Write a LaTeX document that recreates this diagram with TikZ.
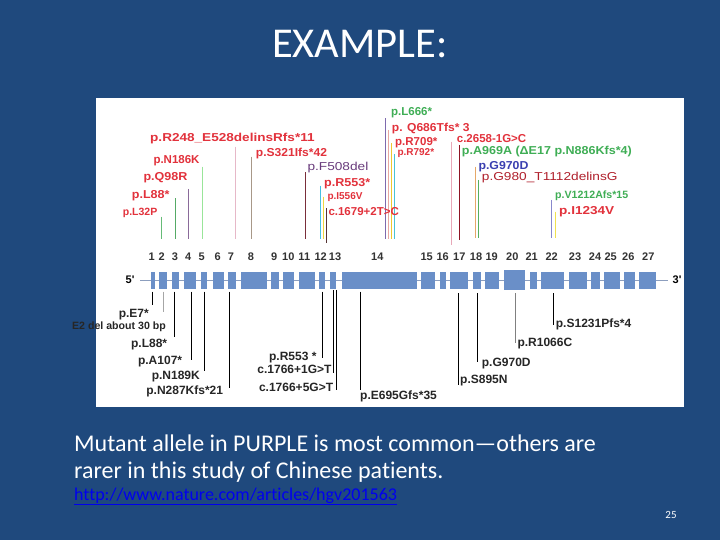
\documentclass[tikz,border=0pt]{standalone}
\usepackage{fontspec}
\usepackage{graphicx}
\setmainfont{Carlito}[Ligatures={NoCommon}]
\newfontfamily\lbl{Liberation Sans}
\definecolor{bg}{HTML}{1F497D}
\definecolor{exon}{HTML}{6A8FC8}
\definecolor{gline}{HTML}{8C9EBE}
\definecolor{labred}{HTML}{E2323C}
\definecolor{labgreen}{HTML}{3FAE55}
\definecolor{labpurple}{HTML}{6A3D7D}
\definecolor{labblue}{HTML}{3A3FB0}
\definecolor{labdred}{HTML}{B0202C}
\definecolor{numgray}{HTML}{333333}
\definecolor{linkblue}{HTML}{0000EE}
\newcommand\sx[2]{\scalebox{#1}[1]{#2}}
\newcommand\fs[2]{{\fontsize{#1}{#1}\selectfont #2}}
\tikzset{
  tl/.style={font=\lbl\bfseries\fontsize{11.5}{12}\selectfont, inner sep=0pt, text height=8.2pt, text depth=0pt, anchor=west},
  tlr/.style={font=\lbl\fontsize{11.5}{12}\selectfont, inner sep=0pt, text height=8.2pt, text depth=0pt, anchor=west},
  bl/.style={font=\lbl\bfseries\fontsize{12}{12}\selectfont, inner sep=0pt, text height=8.6pt, text depth=0pt, text=black!85},
  num/.style={font=\lbl\bfseries\fontsize{11}{11}\selectfont, inner sep=0pt, text height=7.9pt, text depth=0pt, text=numgray},
  mline/.style={line width=0.8pt}
}
\begin{document}
\begin{tikzpicture}[x=1pt,y=-1pt]
\useasboundingbox (0,0) rectangle (720,540);
\fill[bg] (0,0) rectangle (720,540);
\fill[white] (96,98) rectangle (684,407);
\node[text=white, font=\fontsize{42.5}{48}\selectfont, inner sep=0pt, anchor=base] (title) at (360,58) {EXAMPLE:};

% gene backbone
\coordinate (g5) at (140,280);
\coordinate (g3) at (668,280);
\draw[gline, line width=0.8pt] (g5) -- (g3);
\node[font=\lbl\bfseries\fontsize{11}{11}\selectfont, inner sep=0pt] (p5) at (130,280) {5'};
\node[font=\lbl\bfseries\fontsize{11}{11}\selectfont, inner sep=0pt] (p3) at (677,280) {3'};

% exons
\foreach \a/\b in {150.7/155.3,159.3/167.3,171.7/179.3,184/196,200.7/207,213.3/223.7,228.3/236.3,240.7/266.7,271.3/279,283.3/294,298.7/314.7,319/325,329.7/336,341.7/416.7,421/435,440/446,450/468.3,473.3/481,485/499.3,530/536.7,541/564,568.7/586.7,591/600,604/620,624/635,639.3/656}
  \fill[exon] (\a,271.5) rectangle (\b,288.5);
\fill[exon] (504,270) rectangle (525,289.5);

% exon numbers
\foreach \n/\x in {1/151.7,2/161.7,3/175,4/188.3,5/201.7,6/217.7,7/231,8/251,9/274.3,10/288.3,11/304.3,12/320.7,13/335,14/377.3,15/426.7,16/442.7,17/459.3,18/476,19/491.7,20/512.3,21/531.7,22/551.7,23/575,24/595,25/610.7,26/628.3,27/648.3}
  \node[num] (n\n) at (\x,256.7) {\n};

% top mutation lines
\foreach \i/\x/\ya/\yb/\c in {1/161/216.7/239/66BB77, 2/175.3/198.3/239/55AA66, 3/188.7/189/239/8A6A9A, 4/202.7/166.7/239/99E599, 5/235.3/146.7/239/E6B8C8, 6/251/156.7/239/A89888, 7/305/172.3/239/7A2E3A, 8/320.7/185.7/239/45C0E0, 9/323.3/196.7/239/F0D840, 10/326.7/208.3/242.7/553333, 11/385.7/118.3/239/7E6AAE, 12/388.3/130/239/E8A8A0, 13/391.7/143.3/239/F0C830, 14/394.5/154.3/239/48C4D4, 15/451/141.7/245/E8A8B8, 16/459/145/240/8E1424, 17/475.5/166.7/238.3/E6A868, 18/478.7/180/238.3/55B060, 19/551.7/200/238.3/8888CC, 20/555.3/211.7/238.3/F0E050}
{
  \definecolor{tmp}{HTML}{\c}
  \coordinate (ta\i) at (\x,\ya);
  \coordinate (tb\i) at (\x,\yb);
  \draw[mline, tmp] (ta\i) -- (tb\i);
}

% bottom mutation lines
\foreach \i/\x/\ya/\yb/\c in {1/152.7/291.7/305/black, 2/163.3/291.7/311.7/gray!70, 3/174.3/291.7/337.3/black, 4/191/291.7/360/black, 5/204.3/291.7/370.7/black, 6/229.3/291.7/388.3/black, 7/322.3/291.7/358.3/black, 8/333.3/290/372.7/black, 9/336/290/390/black, 10/360.3/291.7/390/black, 11/458.7/293/385/black, 12/477.7/293/361.7/black, 13/515.7/293/343.3/gray, 14/553.3/293/325/black}
{
  \coordinate (ba\i) at (\x,\ya);
  \coordinate (bb\i) at (\x,\yb);
  \draw[line width=0.9pt, \c] (ba\i) -- (bb\i);
}

% top labels
\node[tl, text=labred] (L32P) at (122.7,211.7) {\fs{10.5}{p.L32P}};
\node[tl, text=labred] (L88t) at (131.7,194) {\sx{1.09}{p.L88*}};
\node[tl, text=labred] (Q98R) at (143.3,176) {\sx{1.09}{p.Q98R}};
\node[tl, text=labred] (N186K) at (153.3,159.3) {p.N186K};
\node[tl, text=labred] (R248) at (150,137.7) {\sx{1.18}{p.R248\_E528delinsRfs*11}};
\node[tl, text=labred] (S321) at (255.7,152.3) {\sx{1.05}{p.S321Ifs*42}};
\node[tlr, text=labpurple] (F508) at (307.3,166) {\sx{1.19}{p.F508del}};
\node[tl, text=labred] (R553t) at (324,182.3) {\sx{1.09}{p.R553*}};
\node[tl, text=labred] (I556V) at (327.3,195) {\fs{10}{p.I556V}};
\node[tl, text=labred] (c1679) at (328.3,211) {c.1679+2T>C};
\node[tl, text=labgreen] (L666) at (391,111.7) {p.L666*};
\node[tl, text=labred] (Q686) at (391.7,127.7) {\sx{1.05}{p. Q686Tfs* 3}};
\node[tl, text=labred] (R709) at (395,141) {p.R709*};
\node[tl, text=labred] (R792) at (397.3,151.7) {\fs{10}{p.R792*}};
\node[tl, text=labred] (c2658) at (456.7,138.3) {c.2658-1G>C};
\node[tl, text=labgreen] (A969A) at (461.7,150) {\sx{1.09}{p.A969A (ΔE17 p.N886Kfs*4)}};
\node[tl, text=labblue] (G970Dt) at (478.3,165) {\sx{1.07}{p.G970D}};
\node[tlr, text=labdred] (G980) at (481.7,176.7) {\sx{1.19}{p.G980\_T1112delinsG}};
\node[tl, text=labgreen] (V1212) at (555,194) {\fs{10.6}{p.V1212Afs*15}};
\node[tl, text=labred] (I1234V) at (559,210) {\sx{1.18}{p.I1234V}};

% bottom labels
\node[bl, anchor=east] (E7) at (149,313.3) {p.E7*};
\node[bl, anchor=east] (E2del) at (166,325) {\fs{10.6}{E2 del about 30 bp}};
\node[bl, anchor=east] (L88b) at (167.3,343.3) {p.L88*};
\node[bl, anchor=east] (A107) at (182.3,360) {p.A107*};
\node[bl, anchor=east] (N189K) at (200,375) {p.N189K};
\node[bl, anchor=east] (N287) at (223.3,390) {p.N287Kfs*21};
\node[bl, anchor=east] (R553b) at (316.7,356) {p.R553 *};
\node[bl, anchor=east] (c1766a) at (331.7,369.3) {c.1766+1G>T};
\node[bl, anchor=east] (c1766b) at (333.3,387.3) {c.1766+5G>T};
\node[bl, anchor=west] (E695) at (360,395) {p.E695Gfs*35};
\node[bl, anchor=west] (S895N) at (460,379.3) {p.S895N};
\node[bl, anchor=west] (G970Db) at (481.7,361.7) {p.G970D};
\node[bl, anchor=west] (R1066C) at (517.3,341.7) {p.R1066C};
\node[bl, anchor=west] (S1231) at (555.7,322.7) {p.S1231Pfs*4};

% caption
\node[text=white, font=\fontsize{24}{26}\selectfont, inner sep=0pt, anchor=base west] (cap1) at (74,451) {Mutant allele in PURPLE is most common—others are};
\node[text=white, font=\fontsize{24}{26}\selectfont, inner sep=0pt, anchor=base west] (cap2) at (74,478) {rarer in this study of Chinese patients.};
\node[text=linkblue, font=\fontsize{18}{18}\selectfont, inner sep=0pt, anchor=base west] (link) at (74,500) {\underline{http://www.nature.com/articles/hgv201563}};
\node[text=white, font=\fontsize{11}{12}\selectfont, inner sep=0pt] (page) at (671,515) {25};
\end{tikzpicture}
\end{document}
